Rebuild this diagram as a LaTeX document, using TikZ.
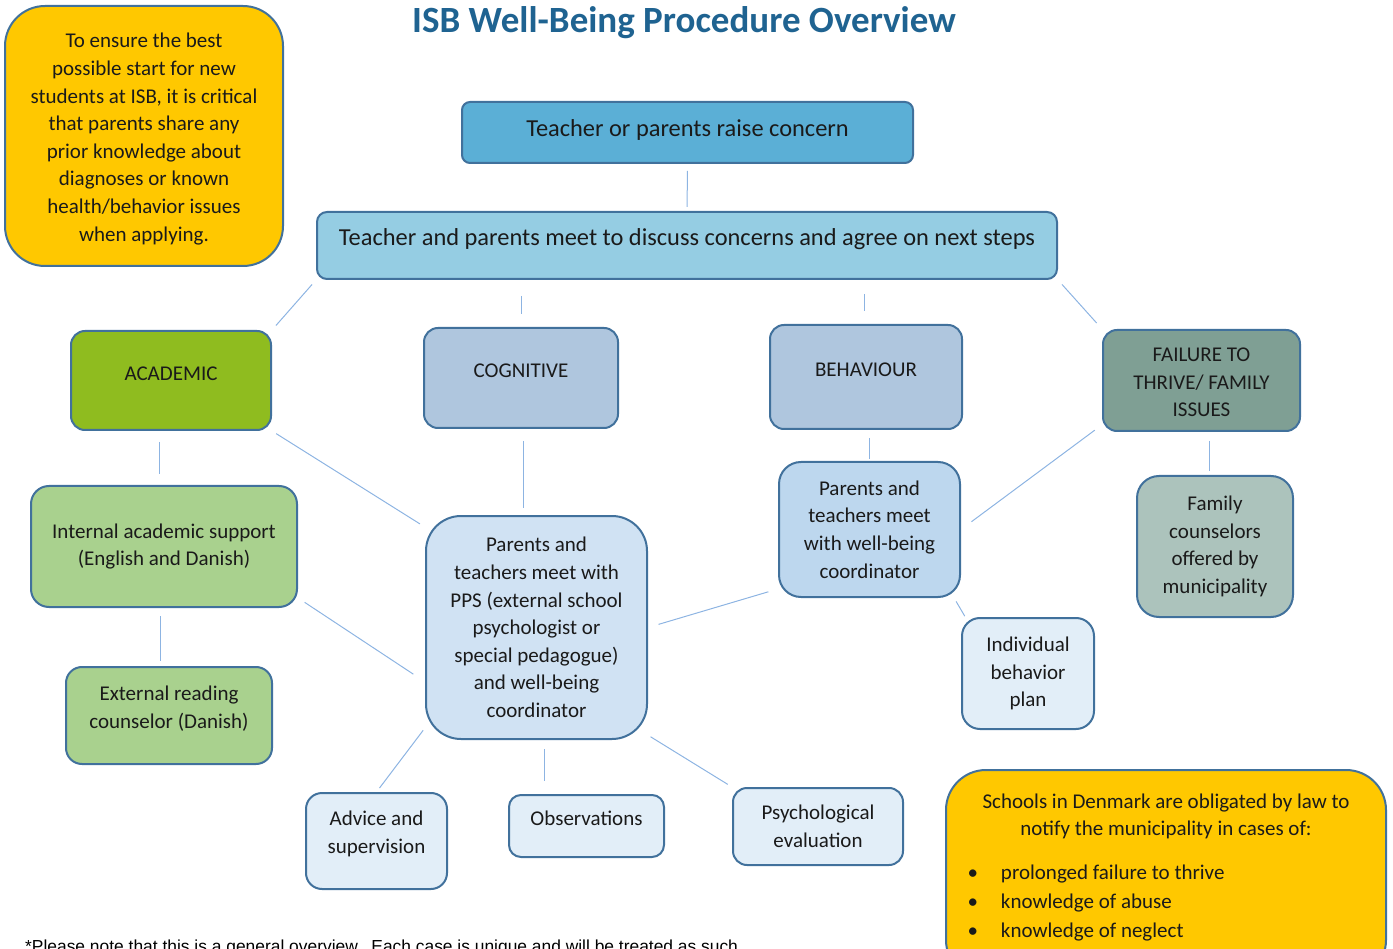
\documentclass[tikz,border=0pt]{standalone}
\usepackage{fontspec}
\setmainfont{Carlito}
\newfontfamily\footfont{Liberation Sans}
\usetikzlibrary{calc}
\definecolor{bordc}{HTML}{41719C}
\definecolor{connc}{HTML}{8DB4E2}
\definecolor{txtc}{HTML}{1A1A1A}
\definecolor{gold}{HTML}{FFC800}
\definecolor{titlec}{HTML}{1F6391}
\definecolor{concernc}{HTML}{5BAFD6}
\definecolor{meetc}{HTML}{95CDE3}
\definecolor{acadc}{HTML}{8FBC1F}
\definecolor{cogc}{HTML}{AFC6DE}
\definecolor{failc}{HTML}{7F9F94}
\definecolor{greenl}{HTML}{A9D18E}
\definecolor{ppsc}{HTML}{D0E2F3}
\definecolor{coordc}{HTML}{BDD7EE}
\definecolor{famc}{HTML}{ACC3BC}
\definecolor{palec}{HTML}{E2EEF8}
\tikzset{
  box/.style={draw=bordc, line width=2pt, rounded corners=#1, align=center,
    inner sep=0pt, text=txtc, font=\fontsize{21}{27.6}\selectfont},
  box/.default=12pt,
  lbl/.style={text=txtc, font=\fontsize{21}{27.6}\selectfont, align=center},
  biglbl/.style={text=txtc, font=\fontsize{24.4}{28}\selectfont, align=center},
  conn/.style={draw=connc, line width=1pt},
}
\begin{document}
\begin{tikzpicture}[x=1pt,y=-1pt]
\useasboundingbox (0,0) rectangle (1393,949);
\clip (0,0) rectangle (1393,949);

% title
\node[text=titlec, font=\fontsize{37}{40}\selectfont\bfseries] (title) at (684,23) {ISB Well-Being Procedure Overview};

% notes
\node[box=40pt, fill=gold, minimum width=278pt, minimum height=260pt] (note1) at (144,136)
  {};
\node[lbl] (note1text) at (144,139)
  {To ensure the best\\ possible start for new\\ students at ISB, it is critical\\ that parents share any\\ prior knowledge about\\ diagnoses or known\\ health/behavior issues\\ when applying.};

\node[box=40pt, fill=gold, minimum width=440pt, minimum height=210pt] (note2) at (1166,875) {};
\node[lbl, anchor=north] (note2head) at (1166,790) {Schools in Denmark are obligated by law to\\ notify the municipality in cases of:};
\node[lbl, anchor=north west, align=left] (note2list) at (964,857)
  {\begin{tabular}{@{}l@{\hspace{23pt}}l@{}}
   \textbullet & prolonged failure to thrive\\[1.3pt]
   \textbullet & knowledge of abuse\\[1.3pt]
   \textbullet & knowledge of neglect
   \end{tabular}};

% main flow
\node[box=8pt, fill=concernc, minimum width=451pt, minimum height=61pt,
  label={[biglbl,yshift=3pt]center:Teacher or parents raise concern}] (concern) at (687.5,132.5) {};
\node[box=10pt, fill=meetc, minimum width=740pt, minimum height=67pt,
  label={[biglbl,yshift=6pt]center:Teacher and parents meet to discuss concerns and agree on next steps}] (meet) at (687,245.5) {};

% categories
\node[box=14pt, fill=acadc, minimum width=200pt, minimum height=99pt,
  label={[lbl,yshift=7pt]center:ACADEMIC}] (acad) at (171,380.5) {};
\node[box=14pt, fill=cogc, minimum width=194pt, minimum height=100pt,
  label={[lbl,yshift=7pt]center:COGNITIVE}] (cog) at (521,378) {};
\node[box=14pt, fill=cogc, minimum width=192pt, minimum height=104pt,
  label={[lbl,yshift=7pt]center:BEHAVIOUR}] (beh) at (866,377) {};
\node[box=14pt, fill=failc, minimum width=197pt, minimum height=101pt,
  label={[lbl,yshift=-2pt]center:FAILURE TO\\ THRIVE/ FAMILY\\ ISSUES}] (fail) at (1201.5,380.5) {};

% second level
\node[box=18pt, fill=greenl, minimum width=266pt, minimum height=121pt] (int) at (164,546.5)
  {Internal academic support\\ (English and Danish)};
\node[box=16pt, fill=greenl, minimum width=206pt, minimum height=97pt,
  label={[lbl,yshift=7pt]center:External reading\\ counselor (Danish)}] (ext) at (169,715.5) {};
\node[box=35pt, fill=ppsc, minimum width=221pt, minimum height=223pt] (pps) at (536.5,627.5)
  {Parents and\\ teachers meet with\\ PPS (external school\\ psychologist or\\ special pedagogue)\\ and well-being\\ coordinator};
\node[box=22pt, fill=coordc, minimum width=181pt, minimum height=135pt] (coord) at (869.5,529.5)
  {Parents and\\ teachers meet\\ with well-being\\ coordinator};
\node[box=22pt, fill=famc, minimum width=156pt, minimum height=141pt] (fam) at (1215,546.5)
  {Family\\ counselors\\ offered by\\ municipality};
\node[box=18pt, fill=palec, minimum width=132pt, minimum height=111pt] (ind) at (1028,673.5)
  {Individual\\ behavior\\ plan};

% third level
\node[box=16pt, fill=palec, minimum width=141pt, minimum height=96pt,
  label={[lbl,yshift=7pt]center:Advice and\\ supervision}] (adv) at (376.5,841) {};
\node[box=12pt, fill=palec, minimum width=155pt, minimum height=62pt,
  label={[lbl,yshift=8pt]center:Observations}] (obs) at (586.5,826) {};
\node[box=14pt, fill=palec, minimum width=170pt, minimum height=77pt] (psy) at (818,826.5)
  {Psychological\\ evaluation};

% connectors
\draw[conn, shorten <=7pt, shorten >=4pt] (concern) -- (meet);
\draw[conn, shorten <=6pt, shorten >=6pt] (meet.south west) -- (acad.north east);
\draw[conn, shorten <=16pt, shorten >=13pt] (cog.north |- meet.south) -- (cog.north);
\draw[conn, shorten <=14pt, shorten >=13pt] ([xshift=-2pt]beh.north |- meet.south) -- ([xshift=-2pt]beh.north);
\draw[conn, shorten <=6pt, shorten >=8pt] (meet.south east) -- (fail.north west);
\draw[conn, shorten <=11pt, shorten >=11pt] ([xshift=-12pt]acad.south) -- ([xshift=-12pt]acad.south |- int.north);
\draw[conn, shorten <=8pt, shorten >=5pt] ([xshift=-4pt]int.south) -- ([xshift=-4pt]int.south |- ext.north);
\draw[conn, shorten <=5pt, shorten >=6pt] (acad.south east) -- (pps.138);
\draw[conn, shorten <=12pt, shorten >=7pt] ([xshift=2pt]cog.south) -- ([xshift=2pt]cog.south |- pps.north);
\draw[conn, shorten <=8pt, shorten >=14pt] (int.-21) -- (pps.206);
\draw[conn, shorten <=8pt, shorten >=2pt] (coord.north |- beh.south) -- (coord.north);
\draw[conn, shorten <=10pt, shorten >=11pt] (coord.213) -- (pps.east);
\draw[conn, shorten <=9pt, shorten >=13pt] (fail.204) -- (coord.east);
\draw[conn, shorten <=4pt, shorten >=1pt] (coord.-39) -- (ind.138);
\draw[conn, shorten <=9pt, shorten >=4pt] ([xshift=8pt]fail.south) -- ([xshift=8pt]fail.south |- fam.north);
\draw[conn, shorten <=3pt, shorten >=5pt] (pps.222) -- (adv.north);
\draw[conn, shorten <=9pt, shorten >=13pt] ([xshift=8pt]pps.south) -- ([xshift=8pt]pps.south |- obs.north);
\draw[conn, shorten <=3pt, shorten >=5pt] (pps.-44) -- (psy.north west);

% footnote (cut by the page edge)
\node[anchor=base west, inner sep=0pt, text=black, font=\footfont\fontsize{17.4}{20}\selectfont] (foot) at (25,952.5)
  {*Please note that this is a general overview.\ \ Each case is unique and will be treated as such.};
\end{tikzpicture}
\end{document}
